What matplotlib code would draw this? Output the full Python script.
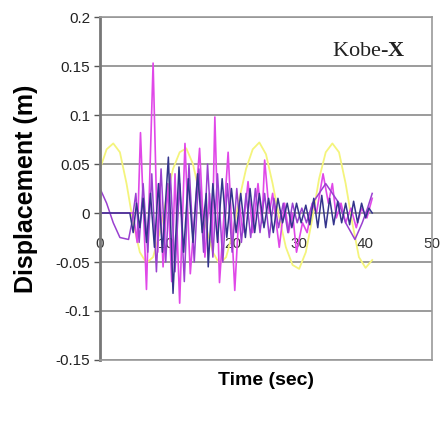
import matplotlib
matplotlib.use("Agg")
import matplotlib.pyplot as plt

plt.rcParams['font.family'] = ['Liberation Sans', 'DejaVu Sans']
plt.rcParams['mathtext.fontset'] = 'custom'
plt.rcParams['mathtext.rm'] = 'Liberation Serif'
plt.rcParams['mathtext.bf'] = 'Liberation Serif:bold'

# displacement histories (turning points), time in s, displacement in m
t_yellow = [0, 1, 2, 3, 4, 5, 6, 7, 8, 9, 10, 11, 12, 13, 14, 15, 16, 17, 18, 19,
            20, 21, 22, 23, 24, 25, 26, 27, 28, 29, 30, 31, 32, 33, 34, 35, 36,
            37, 38, 39, 40, 41]
d_yellow = [0.045, 0.065, 0.071, 0.062, 0.030, -0.010, -0.040, -0.051, -0.045,
            -0.020, 0.015, 0.045, 0.062, 0.066, 0.050, 0.020, -0.015, -0.040,
            -0.052, -0.045, -0.020, 0.015, 0.045, 0.065, 0.072, 0.060, 0.030,
            -0.005, -0.035, -0.053, -0.057, -0.040, -0.005, 0.035, 0.062, 0.071,
            0.062, 0.030, -0.010, -0.045, -0.056, -0.048]

t_magenta = [0, 5.0, 5.6, 6.1, 7.0, 8.0, 8.7, 9.0, 9.5, 10.2, 10.8, 11.3, 12.0,
             12.8, 13.6, 15.0, 15.8, 16.5, 16.9, 17.3, 18.0, 19.3, 20.3, 21.0,
             21.5, 22.3, 23.0, 23.8, 24.4, 24.8, 25.5, 26.0, 27.0, 27.8, 28.4,
             29.0, 29.6, 30.5, 31.2, 32.0, 32.6, 33.6, 34.4, 35.0, 35.6, 36.3,
             37.0, 37.8, 38.6, 39.4, 40.2, 41.0]
d_magenta = [0.0, 0.0, -0.030, 0.082, -0.078, 0.153, -0.040, 0.030, -0.055,
             0.030, -0.070, 0.040, -0.092, 0.071, -0.062, 0.066, -0.045, 0.020,
             -0.030, 0.098, -0.071, 0.062, -0.079, 0.010, -0.020, 0.032, -0.020,
             0.030, -0.010, 0.054, 0.000, 0.020, -0.035, 0.010, -0.020, 0.000,
             -0.040, -0.010, -0.020, 0.010, 0.000, 0.040, 0.010, 0.030, -0.005,
             0.010, -0.010, 0.005, -0.015, 0.005, -0.005, 0.015]

t_violet = [0, 1.0, 2.0, 3.0, 4.3, 4.8, 5.4, 5.9, 6.5, 7.2, 7.8, 8.5, 9.2, 9.9,
            10.6, 11.3, 12.0, 12.7, 13.4, 14.2, 14.9, 15.6, 16.2, 17.0, 17.7,
            18.5, 19.2, 19.9, 20.6, 21.3, 22.0, 22.7, 23.4, 24.1, 24.8, 25.5,
            26.2, 26.9, 27.6, 28.3, 29.0, 29.7, 30.4, 31.1, 32.0, 33.0, 34.0,
            35.0, 36.0, 37.0, 38.4, 39.5, 40.3, 41.0]
d_violet = [0.025, 0.010, -0.010, -0.025, -0.027, -0.010, 0.020, -0.030, 0.030,
            -0.040, 0.040, -0.060, 0.045, -0.050, 0.040, -0.060, 0.030, -0.070,
            0.050, -0.050, 0.045, -0.040, 0.050, -0.045, 0.040, -0.050, 0.030,
            -0.040, 0.025, -0.030, 0.020, -0.025, 0.025, -0.020, 0.020, -0.025,
            0.015, -0.015, 0.010, -0.020, 0.010, -0.010, 0.005, -0.010, 0.010,
            0.020, 0.030, 0.020, 0.010, -0.010, -0.027, -0.010, 0.005, 0.020]

t_navy = [0, 4.5, 5.0, 5.5, 6.0, 6.5, 7.0, 7.6, 8.2, 8.8, 9.4, 10.3, 11.0, 11.9,
          12.6, 13.3, 14.0, 14.7, 15.4, 16.0, 16.3, 17.0, 17.7, 18.4, 19.1,
          19.8, 20.5, 21.2, 21.9, 22.6, 23.3, 24.0, 24.7, 25.4, 26.1, 26.8,
          27.5, 28.2, 28.9, 29.6, 30.3, 31.0, 31.6, 32.2, 32.8, 33.4, 34.0,
          34.6, 35.2, 35.8, 36.4, 37.0, 37.6, 38.2, 38.8, 39.4, 40.0, 40.5, 41.0]
d_navy = [0.0, 0.0, -0.020, 0.010, -0.015, 0.015, -0.030, 0.020, -0.035, 0.030,
          -0.040, 0.057, -0.082, 0.047, -0.040, 0.035, -0.030, 0.040, -0.020,
          0.020, -0.055, 0.030, -0.030, 0.035, -0.025, 0.025, -0.020, 0.020,
          -0.025, 0.025, -0.020, 0.020, -0.015, 0.015, -0.020, 0.015, -0.010,
          0.010, -0.015, 0.010, -0.010, 0.008, -0.012, 0.015, -0.015, 0.018,
          -0.015, 0.015, -0.012, 0.012, -0.010, 0.010, -0.012, 0.012, -0.010,
          0.010, -0.005, 0.005, 0.0]

y_ticks = [0.2, 0.15, 0.1, 0.05, 0, -0.05, -0.1, -0.15]
y_labels = ["0.2", "0.15", "0.1", "0.05", "0", "-0.05", "-0.1", "-0.15"]
x_ticks = [0, 10, 20, 30, 40, 50]

fig = plt.figure(figsize=(4.43, 4.21), dpi=100)
ax = fig.add_axes([0.2257, 0.1449, 0.7494, 0.8147])

ax.plot(t_yellow, d_yellow, color="#f4f47c", lw=1.3)
ax.plot(t_magenta, d_magenta, color="#e048e8", lw=1.2)
ax.plot(t_violet, d_violet, color="#9a40d0", lw=1.1)
ax.plot(t_navy, d_navy, color="#34348c", lw=1.1)

ax.set_xlim(0, 50)
ax.set_ylim(-0.15, 0.2)
ax.set_yticks(y_ticks)
ax.set_yticklabels(y_labels)
ax.tick_params(axis="y", length=4, width=1, color="#555555",
               labelsize=11, labelcolor="#222222", pad=3)
ax.grid(True, axis="y", color="#808080", lw=1.1)
ax.set_axisbelow(True)

# frame
for side in ["top", "right", "bottom"]:
    ax.spines[side].set_color("#999999")
    ax.spines[side].set_linewidth(1.2)
ax.spines["left"].set_color("#777777")
ax.spines["left"].set_linewidth(2)

# horizontal axis crosses at zero
ax.set_xticks([])
sec = ax.secondary_xaxis(0.15 / 0.35)
sec.set_xticks(x_ticks)
sec.tick_params(axis="x", length=0, labelsize=11, labelcolor="#333333", pad=17)
sec.spines["bottom"].set_visible(False)

ax.set_ylabel("Displacement (m)", fontsize=18, fontweight="bold", labelpad=13)
ax.set_xlabel("Time (sec)", fontsize=14, fontweight="bold", labelpad=9)

ax.text(0.92, 0.9, r"Kobe-$\mathbf{X}$", transform=ax.transAxes, ha="right",
        va="center", fontsize=16, family="Liberation Serif", color="#222222")

fig.savefig("out.png", dpi=100)
